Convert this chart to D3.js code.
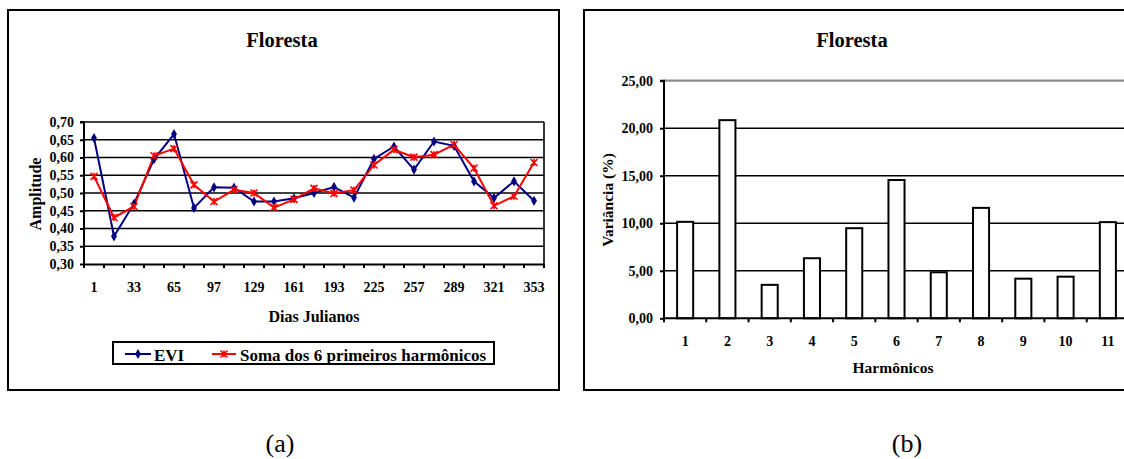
<!DOCTYPE html>
<html>
<head>
<meta charset="utf-8">
<script src="https://cdn.jsdelivr.net/npm/d3@7"></script>
<style>
  html, body { margin: 0; padding: 0; background: #fff; }
  svg { display: block; font-family: "Liberation Serif", "Times New Roman", serif; }
</style>
</head>
<body>
<svg id="fig" width="1124" height="459"></svg>
<script>
// Julian days of the EVI composites
const days = [1, 17, 33, 49, 65, 81, 97, 113, 129, 145, 161, 177, 193, 209, 225, 241, 257, 273, 289, 305, 321, 337, 353];
const dayLabels = [1, 33, 65, 97, 129, 161, 193, 225, 257, 289, 321, 353];
// EVI series and reconstruction from the first 6 harmonics
const evi = [0.655, 0.378, 0.470, 0.595, 0.666, 0.458, 0.516, 0.515, 0.476, 0.476, 0.485, 0.500, 0.517, 0.487, 0.596, 0.631, 0.566, 0.645, 0.633, 0.533, 0.486, 0.533, 0.478];
const soma6 = [0.547, 0.431, 0.462, 0.605, 0.625, 0.523, 0.476, 0.509, 0.500, 0.459, 0.482, 0.513, 0.499, 0.508, 0.579, 0.622, 0.601, 0.608, 0.636, 0.570, 0.464, 0.491, 0.586];
const ampTicks = [0.30, 0.35, 0.40, 0.45, 0.50, 0.55, 0.60, 0.65, 0.70];

// Variance explained by each harmonic (%)
const harmonics = [1, 2, 3, 4, 5, 6, 7, 8, 9, 10, 11];
const variancia = [10.15, 20.85, 3.52, 6.32, 9.48, 14.55, 4.84, 11.62, 4.17, 4.38, 10.12];
const varTicks = [0, 5, 10, 15, 20, 25];

const svg = d3.select("#fig");
const comma = f => v => d3.format(f)(v).replace(".", ",");
const TICK_FONT = 14;

// ---------- (a) line chart ----------
const a = svg.append("g");
a.append("rect").attr("x", 8).attr("y", 10).attr("width", 551).attr("height", 380)
  .attr("fill", "#fff").attr("stroke", "#000").attr("stroke-width", 2);
a.append("text").attr("x", 282).attr("y", 47).attr("text-anchor", "middle")
  .attr("font-weight", "bold").attr("font-size", 20.5).text("Floresta");

const xA = d3.scaleBand().domain(days).range([84, 544]).padding(0);
const yA = d3.scaleLinear().domain([0.30, 0.70]).range([264, 122]);
const cx = d => xA(d) + xA.bandwidth() / 2;

// horizontal gridlines
a.append("g").selectAll("line").data(ampTicks.filter(t => t > 0.3)).join("line")
  .attr("x1", 84).attr("x2", 544).attr("y1", d => yA(d)).attr("y2", d => yA(d))
  .attr("stroke", "#000").attr("stroke-width", 1.6);
// right border of plot area
a.append("line").attr("x1", 544).attr("x2", 544).attr("y1", yA(0.70)).attr("y2", yA(0.30))
  .attr("stroke", "#000").attr("stroke-width", 1.6);

// y axis
const yAxA = a.append("g").attr("transform", "translate(84,0)")
  .call(d3.axisLeft(yA).tickValues(ampTicks).tickFormat(comma(".2f")).tickSize(4).tickPadding(6));
// x axis: tick marks on category boundaries, labels on every other category
const xAxA = a.append("g").attr("transform", `translate(0,${yA(0.30)})`)
  .call(d3.axisBottom(xA).tickValues(dayLabels).tickSize(0).tickPadding(18));
a.append("g").selectAll("line").data(days.concat([null])).join("line")
  .attr("x1", (d, i) => 84 + i * xA.bandwidth()).attr("x2", (d, i) => 84 + i * xA.bandwidth())
  .attr("y1", yA(0.30)).attr("y2", yA(0.30) + 4).attr("stroke", "#000").attr("stroke-width", 2);
[yAxA, xAxA].forEach(g => {
  g.select(".domain").attr("stroke", "#000").attr("stroke-width", 2);
  g.selectAll(".tick line").attr("stroke", "#000").attr("stroke-width", 2);
  g.selectAll("text").attr("font-family", "Liberation Serif").attr("font-weight", "bold")
    .attr("font-size", TICK_FONT).attr("fill", "#000");
});
yAxA.select(".domain").attr("d", `M-4,${yA(0.70)}H0V${yA(0.30)}`);

a.append("text").attr("transform", "translate(41,194) rotate(-90)").attr("text-anchor", "middle")
  .attr("font-weight", "bold").attr("font-size", 16).text("Amplitude");
a.append("text").attr("x", 314).attr("y", 322).attr("text-anchor", "middle")
  .attr("font-weight", "bold").attr("font-size", 16).text("Dias Julianos");

const line = d3.line().x((d, i) => cx(days[i])).y(d => yA(d));
const blue = "#000080", red = "#ff0000";
a.append("path").datum(evi).attr("d", line).attr("fill", "none").attr("stroke", blue).attr("stroke-width", 2);
a.append("path").datum(soma6).attr("d", line).attr("fill", "none").attr("stroke", red).attr("stroke-width", 2);

const diamond = d3.symbol().type(d3.symbolDiamond).size(30);
a.append("g").selectAll("path").data(evi).join("path")
  .attr("d", diamond).attr("transform", (d, i) => `translate(${cx(days[i])},${yA(d)})`).attr("fill", blue);
const crossPath = "M-3.5,-3.5L3.5,3.5M-3.5,3.5L3.5,-3.5M0,-3.5V3.5";
a.append("g").selectAll("path").data(soma6).join("path")
  .attr("d", crossPath).attr("transform", (d, i) => `translate(${cx(days[i])},${yA(d)})`)
  .attr("stroke", red).attr("stroke-width", 1.6).attr("fill", "none");

// legend
const lg = a.append("g");
lg.append("rect").attr("x", 113).attr("y", 342).attr("width", 381).attr("height", 22)
  .attr("fill", "#fff").attr("stroke", "#000").attr("stroke-width", 2);
lg.append("line").attr("x1", 125).attr("x2", 151).attr("y1", 354).attr("y2", 354).attr("stroke", blue).attr("stroke-width", 2);
lg.append("path").attr("d", diamond).attr("transform", "translate(138,354)").attr("fill", blue);
lg.append("text").attr("x", 154).attr("y", 361).attr("font-weight", "bold").attr("font-size", 17).text("EVI");
lg.append("line").attr("x1", 212).attr("x2", 236).attr("y1", 354).attr("y2", 354).attr("stroke", red).attr("stroke-width", 2);
lg.append("path").attr("d", crossPath).attr("transform", "translate(224,354)").attr("stroke", red).attr("stroke-width", 1.6);
lg.append("text").attr("x", 240).attr("y", 361).attr("font-weight", "bold").attr("font-size", 17)
  .text("Soma dos 6 primeiros harmônicos");

// ---------- (b) bar chart ----------
const b = svg.append("g");
b.append("rect").attr("x", 584).attr("y", 10).attr("width", 560).attr("height", 380)
  .attr("fill", "#fff").attr("stroke", "#000").attr("stroke-width", 2);
b.append("text").attr("x", 852).attr("y", 47).attr("text-anchor", "middle")
  .attr("font-weight", "bold").attr("font-size", 20.5).text("Floresta");

const xB = d3.scaleBand().domain(harmonics).range([664, 1129]).paddingInner(0.62).paddingOuter(0.31);
const xBstep = d3.scaleBand().domain(harmonics).range([664, 1129]).padding(0);
const yB = d3.scaleLinear().domain([0, 25]).range([318.3, 80.7]);

b.append("g").selectAll("line").data(varTicks.filter(t => t > 0)).join("line")
  .attr("x1", 664).attr("x2", 1130).attr("y1", d => yB(d)).attr("y2", d => yB(d))
  .attr("stroke", d => d === 25 ? "#8c8c8c" : "#000").attr("stroke-width", d => d === 25 ? 2.2 : 1.6);

b.append("g").selectAll("rect").data(variancia).join("rect")
  .attr("x", (d, i) => xB(harmonics[i])).attr("width", xB.bandwidth())
  .attr("y", d => yB(d)).attr("height", d => yB(0) - yB(d))
  .attr("fill", "#fff").attr("stroke", "#000").attr("stroke-width", 2);

const yAxB = b.append("g").attr("transform", "translate(664,0)")
  .call(d3.axisLeft(yB).tickValues(varTicks).tickFormat(comma(".2f")).tickSize(4).tickPadding(7));
const xAxB = b.append("g").attr("transform", `translate(0,${yB(0)})`)
  .call(d3.axisBottom(xBstep).tickSize(0).tickPadding(18));
b.append("g").selectAll("line").data(harmonics).join("line")
  .attr("x1", (d, i) => 664 + i * xBstep.bandwidth()).attr("x2", (d, i) => 664 + i * xBstep.bandwidth())
  .attr("y1", yB(0)).attr("y2", yB(0) + 4).attr("stroke", "#000").attr("stroke-width", 2);
[yAxB, xAxB].forEach(g => {
  g.select(".domain").attr("stroke", "#000").attr("stroke-width", 2);
  g.selectAll(".tick line").attr("stroke", "#000").attr("stroke-width", 2);
  g.selectAll("text").attr("font-family", "Liberation Serif").attr("font-weight", "bold")
    .attr("font-size", TICK_FONT).attr("fill", "#000");
});
yAxB.select(".domain").attr("d", `M-4,${yB(25)}H0V${yB(0)}`);
xAxB.select(".domain").attr("d", `M664,0H1130`);

b.append("text").attr("transform", "translate(613,200) rotate(-90)").attr("text-anchor", "middle")
  .attr("font-weight", "bold").attr("font-size", 15.5).text("Variância (%)");
b.append("text").attr("x", 893).attr("y", 373).attr("text-anchor", "middle")
  .attr("font-weight", "bold").attr("font-size", 15.5).text("Harmônicos");

// panel captions
svg.append("text").attr("x", 280).attr("y", 452).attr("text-anchor", "middle").attr("font-size", 26).text("(a)");
svg.append("text").attr("x", 907).attr("y", 452).attr("text-anchor", "middle").attr("font-size", 26).text("(b)");
</script>
</body>
</html>
